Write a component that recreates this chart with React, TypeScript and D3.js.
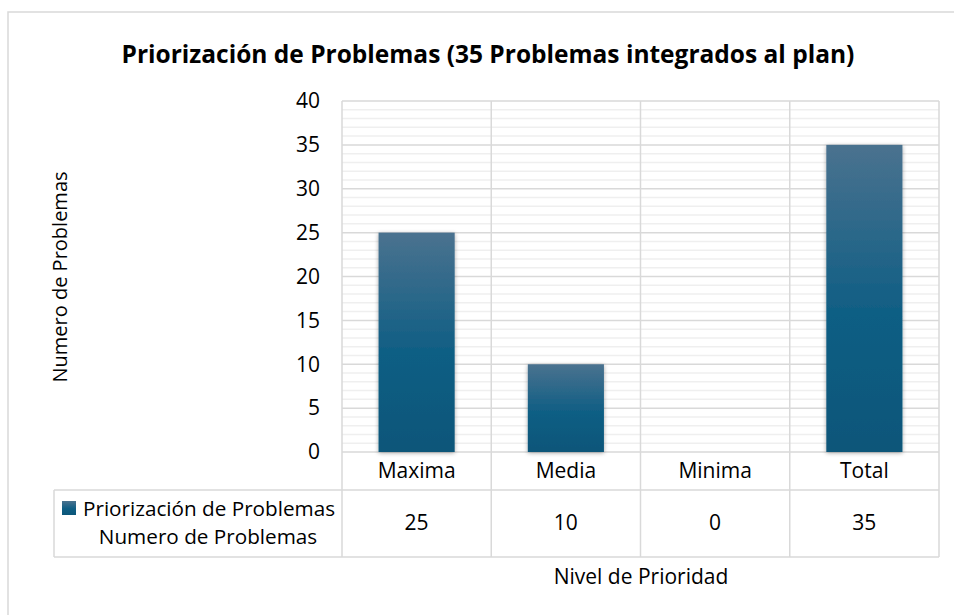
import React from "react";
import * as d3 from "d3";

const categories = ["Maxima", "Media", "Minima", "Total"];
const values = [25, 10, 0, 35];
const yTicks = [0, 5, 10, 15, 20, 25, 30, 35, 40];
const seriesName = "Priorización de Problemas";
const seriesSub = "Numero de Problemas";

const width = 954;
const height = 615;
const font = "'Open Sans', sans-serif";
const grid = "#d9d9d9";

const plot = { left: 342, right: 939, top: 101, bottom: 452 };
const table = { left: 54, row1: 490, row2: 557 };

export default function App() {
  const x = d3
    .scaleBand()
    .domain(categories)
    .range([plot.left, plot.right])
    .paddingInner(0)
    .paddingOuter(0);
  const y = d3.scaleLinear().domain([0, 40]).range([plot.bottom, plot.top]);
  const minor = d3.range(0, 41, 1).filter(v => v % 5 !== 0);
  const barW = x.bandwidth() * 0.51;

  return (
    <svg
      width={width}
      height={height}
      style={{ position: "absolute", left: 0, top: 0, background: "#fff" }}
      fontFamily={font}
    >
      <defs>
        <linearGradient id="barGrad" x1="0" y1="0" x2="0" y2="1">
          <stop offset="0%" stopColor="#4a728f" />
          <stop offset="55%" stopColor="#0f5e84" />
          <stop offset="100%" stopColor="#0b5679" />
        </linearGradient>
        <filter id="shadow" x="-20%" y="-20%" width="140%" height="140%">
          <feDropShadow dx="0" dy="1" stdDeviation="2" floodColor="#000" floodOpacity="0.35" />
        </filter>
      </defs>

      <rect x={8} y={12} width={960} height={620} fill="#fff" stroke={grid} strokeWidth={1.5} />

      <text x={488} y={63} textAnchor="middle" fontWeight="bold" fontSize={24.5} fill="#000">
        Priorización de Problemas (35 Problemas integrados al plan)
      </text>

      {/* minor gridlines */}
      {minor.map(v => (
        <line key={"m" + v} x1={plot.left} x2={plot.right} y1={y(v)} y2={y(v)} stroke="#efefef" strokeWidth={1.5} />
      ))}
      {/* major gridlines */}
      {yTicks.map(v => (
        <line key={"g" + v} x1={plot.left} x2={plot.right} y1={y(v)} y2={y(v)} stroke={grid} strokeWidth={1.5} />
      ))}
      {/* vertical lines through plot and table */}
      {categories.map(c => (
        <line key={"v" + c} x1={x(c)} x2={x(c)} y1={plot.top} y2={table.row2} stroke={grid} strokeWidth={1.5} />
      ))}
      <line x1={plot.right} x2={plot.right} y1={plot.top} y2={table.row2} stroke={grid} strokeWidth={1.5} />

      {/* bars */}
      {categories.map((c, i) =>
        values[i] > 0 ? (
          <rect
            key={"b" + c}
            x={(x(c) as number) + (x.bandwidth() - barW) / 2}
            y={y(values[i])}
            width={barW}
            height={y(0) - y(values[i])}
            fill="url(#barGrad)"
            filter="url(#shadow)"
          />
        ) : null
      )}

      {/* y tick labels */}
      {yTicks.map(v => (
        <text key={"t" + v} x={320} y={y(v)} dy="0.35em" textAnchor="end" fontSize={21} fill="#000">
          {v}
        </text>
      ))}

      {/* data table */}
      <line x1={table.left} x2={plot.right} y1={table.row1} y2={table.row1} stroke={grid} strokeWidth={1.5} />
      <line x1={table.left} x2={plot.right} y1={table.row2} y2={table.row2} stroke={grid} strokeWidth={1.5} />
      <line x1={table.left} x2={table.left} y1={table.row1} y2={table.row2} stroke={grid} strokeWidth={1.5} />
      {categories.map((c, i) => (
        <g key={"c" + c}>
          <text x={(x(c) as number) + x.bandwidth() / 2} y={478} textAnchor="middle" fontSize={21} fill="#000">
            {c}
          </text>
          <text x={(x(c) as number) + x.bandwidth() / 2} y={530} textAnchor="middle" fontSize={21} fill="#000">
            {values[i]}
          </text>
        </g>
      ))}
      <rect x={62} y={501} width={14} height={14} fill="url(#barGrad)" />
      <text x={83} y={516} fontSize={20.7} fill="#000">
        {seriesName}
      </text>
      <text x={208} y={544} textAnchor="middle" fontSize={20.7} fill="#000">
        {seriesSub}
      </text>

      {/* axis titles */}
      <text
        transform={`translate(67,277) rotate(-90)`}
        textAnchor="middle"
        fontSize={20}
        fill="#000"
      >
        Numero de Problemas
      </text>
      <text x={641} y={584} textAnchor="middle" fontSize={21} fill="#000">
        Nivel de Prioridad
      </text>
    </svg>
  );
}
